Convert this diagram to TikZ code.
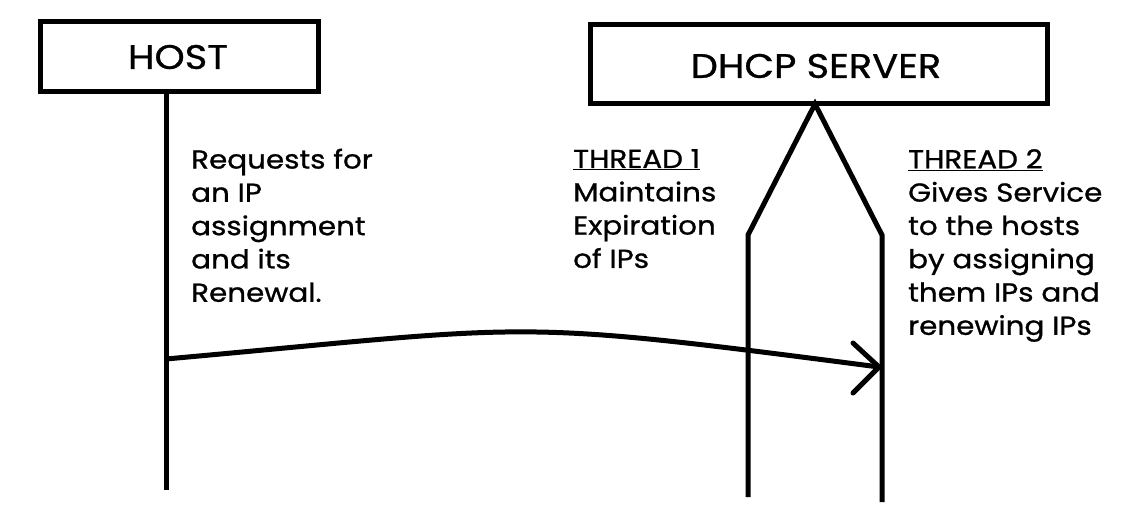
\documentclass[tikz,border=0pt]{standalone}
\usepackage{fontspec}
\setmainfont{Poppins}[FakeStretch=1.13,FakeBold=0.9]
\begin{document}
\begin{tikzpicture}[x=1pt,y=-1pt,
  box/.style={draw,line width=5pt,inner sep=0pt},
  life/.style={line width=5pt},
  title/.style={font=\fontsize{34}{40}\selectfont},
  body/.style={font=\fontsize{26}{33.3}\selectfont,align=left,anchor=north west,inner sep=0pt}]
\useasboundingbox (0,0) rectangle (1132,516);
% boxes
\node[box,minimum width=278pt,minimum height=70pt] (host) at (179,57) {};
\node[title] (hostt) at (178,57) {HOST};
\node[box,minimum width=457pt,minimum height=79pt] (dhcp) at (818.5,64.5) {};
\node[title] (dhcpt) at (816,66) {DHCP SERVER};
% lifelines
\coordinate (hl0) at (166,92);
\coordinate (hl1) at (166,490);
\draw[life] (hl0) -- (hl1);
\coordinate (v) at (815,104);
\coordinate (l1) at (748,235);
\coordinate (l2) at (748,497);
\coordinate (r1) at (882,235);
\coordinate (r2) at (882,502);
\draw[life,line join=miter] (l2) -- (l1) -- (v) -- (r1) -- (r2);
% message
\coordinate (ms) at (166,359);
\coordinate (me) at (879,367);
\draw[life] (ms) .. controls (543,325) and (502,318) .. (me);
\draw[life,line cap=round,line join=miter] (853,343) -- (me) -- (853,393);
% texts
\node[body] (ht) at (191,148.5) {Requests for\\an IP\\assignment\\and its\\Renewal.};
\node[body] (t1) at (573,149) {\underline{THREAD 1}\\Maintains\\Expiration\\of IPs};
\node[body] (t2) at (908,149) {\underline{THREAD 2}\\Gives Service\\to the hosts\\by assigning\\them IPs and\\renewing IPs};
\end{tikzpicture}
\end{document}
